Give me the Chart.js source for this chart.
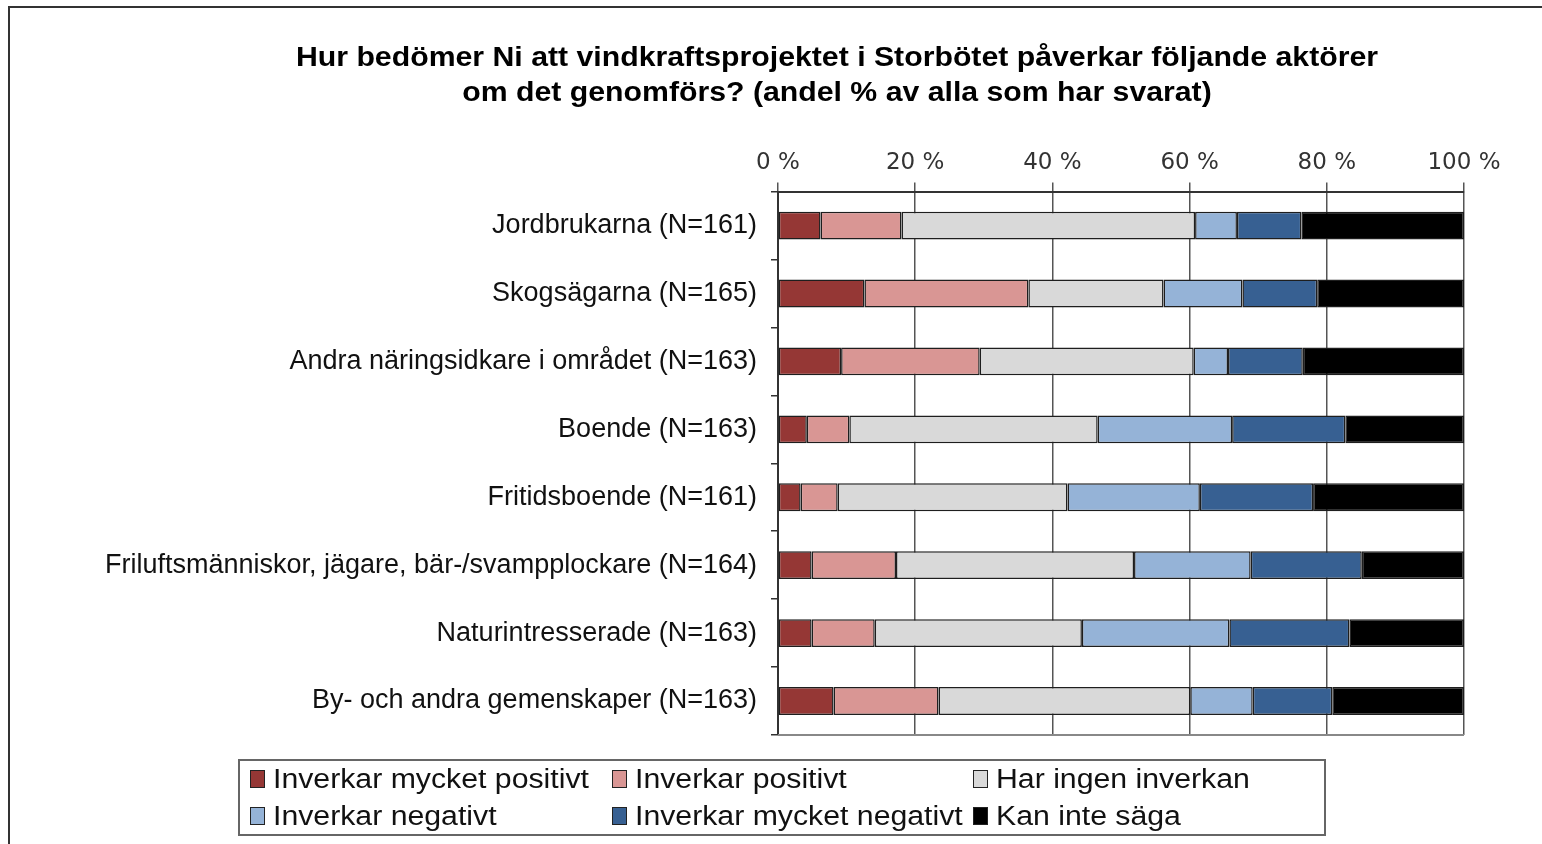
<!DOCTYPE html>
<html>
<head>
<meta charset="utf-8">
<script src="https://cdn.jsdelivr.net/npm/chart.js@4/dist/chart.umd.min.js"></script>
<style>
  html, body { margin: 0; padding: 0; background: #fff; overflow: hidden; }
  #wrap { position: relative; width: 1542px; height: 844px; }
  #frame { position: absolute; left: 8px; top: 6px; width: 1600px; height: 900px; border-left: 2px solid #333; border-top: 2px solid #333; }
  #chart { position: absolute; left: 0; top: 0; }
  #legend {
    position: absolute; left: 238px; top: 759px; width: 1088px; height: 77px;
    border: 2px solid #666; box-sizing: border-box;
    display: grid; grid-template-columns: 362px 361px 340px; grid-template-rows: 36px 38px;
    padding-left: 10px;
    font-family: "Liberation Sans", Arial, sans-serif; font-size: 27px; color: #111;
  }
  .item { display: flex; align-items: center; white-space: nowrap; }
  .sw { width: 13px; height: 16px; border: 1.5px solid #222; margin-right: 8px; flex: none; }
  .txt { display: inline-block; transform: scaleX(1.12); transform-origin: left center; }
</style>
</head>
<body>
<div id="wrap">
  <div id="frame"></div>
  <canvas id="chart" width="1542" height="844"></canvas>
  <div id="legend"></div>
</div>
<script>
// Kategorier och andelar (%)
const categories = [
    'Jordbrukarna (N=161)',
    'Skogsägarna (N=165)',
    'Andra näringsidkare i området (N=163)',
    'Boende (N=163)',
    'Fritidsboende (N=161)',
    'Friluftsmänniskor, jägare, bär-/svampplockare (N=164)',
    'Naturintresserade (N=163)',
    'By- och andra gemenskaper (N=163)'
];
const mycketPositivt = [6.2, 12.6, 9.2, 4.2, 3.3, 4.9, 4.9, 8.1];
const positivt       = [11.8, 23.9, 20.2, 6.2, 5.4, 12.3, 9.2, 15.3];
const ingenInverkan  = [42.8, 19.7, 31.2, 36.2, 33.5, 34.7, 30.2, 36.7];
const negativt       = [6.1, 11.5, 5.0, 19.6, 19.3, 17.0, 21.5, 9.1];
const mycketNegativt = [9.4, 10.9, 10.9, 16.5, 16.5, 16.2, 17.5, 11.6];
const kanInteSaga    = [23.7, 21.4, 23.5, 17.3, 22.0, 14.9, 16.7, 19.2];
const tickLabels = ['0 %', '20 %', '40 %', '60 %', '80 %', '100 %'];

const seriesNames = ['Inverkar mycket positivt', 'Inverkar positivt', 'Har ingen inverkan',
    'Inverkar negativt', 'Inverkar mycket negativt', 'Kan inte säga'];
const seriesData = [mycketPositivt, positivt, ingenInverkan, negativt, mycketNegativt, kanInteSaga];
const seriesColors = ['#953735', '#D99694', '#D9D9D9', '#95B3D7', '#376092', '#000000'];

const titleLines = ['Hur bedömer Ni att vindkraftsprojektet i Storbötet påverkar följande aktörer',
    'om det genomförs? (andel % av alla som har svarat)'];

// Rubrik (lite bredare typsnitt, som i originalet)
const titlePlugin = {
    id: 'titlePlugin',
    afterDraw(chart) {
        const { ctx } = chart;
        ctx.save();
        ctx.fillStyle = '#000';
        ctx.font = 'bold 27px "Liberation Sans", Arial, sans-serif';
        ctx.textAlign = 'center';
        ctx.textBaseline = 'middle';
        titleLines.forEach((t, i) => {
            ctx.save();
            ctx.translate(837, 59 + i * 35);
            ctx.scale(1.12, 1);
            ctx.fillText(t, 0, 0);
            ctx.restore();
        });
        ctx.restore();
    }
};

// Ram runt plotytan (nederkant)
const plotFrame = {
    id: 'plotFrame',
    afterDatasetsDraw(chart) {
        const { ctx, chartArea: a } = chart;
        ctx.save();
        ctx.strokeStyle = '#888';
        ctx.lineWidth = 2;
        ctx.beginPath();
        ctx.moveTo(a.left, a.bottom);
        ctx.lineTo(a.right, a.bottom);
        ctx.stroke();
        ctx.restore();
    }
};

const ctx = document.getElementById('chart').getContext('2d');
const chart = new Chart(ctx, {
    type: 'bar',
    data: {
        labels: categories,
        datasets: seriesData.map((d, i) => ({
            label: seriesNames[i],
            data: d,
            backgroundColor: seriesColors[i],
            borderColor: '#1e1e1e',
            borderWidth: 1.5,
            borderSkipped: false,
            barPercentage: 0.41,
            categoryPercentage: 1
        }))
    },
    options: {
        indexAxis: 'y',
        responsive: false,
        animation: false,
        layout: { padding: { left: 0, right: 78, top: 143, bottom: 109 } },
        plugins: {
            legend: { display: false },
            tooltip: { enabled: false },
            title: { display: false }
        },
        scales: {
            x: {
                position: 'top',
                stacked: true,
                min: 0,
                max: 100,
                ticks: {
                    stepSize: 20,
                    color: '#333',
                    padding: 6,
                    font: { family: '"DejaVu Sans", sans-serif', size: 23 },
                    callback: (v, i) => tickLabels[i]
                },
                grid: { color: '#555', lineWidth: 1.5, tickLength: 9 },
                border: { color: '#333', width: 2 }
            },
            y: {
                stacked: true,
                afterFit: s => { s.width = 778; },
                ticks: {
                    color: '#111',
                    padding: 14,
                    font: { family: '"Liberation Sans", Arial, sans-serif', size: 27 }
                },
                grid: { offset: true, drawOnChartArea: false, color: '#333', lineWidth: 1.5, tickLength: 7 },
                border: { color: '#333', width: 2 }
            }
        }
    },
    plugins: [plotFrame, titlePlugin]
});

// Teckenförklaring
const legend = document.getElementById('legend');
seriesNames.forEach((name, i) => {
    const el = document.createElement('div');
    el.className = 'item';
    el.innerHTML = '<span class="sw" style="background:' + seriesColors[i] + '"></span><span class="txt">' + name + '</span>';
    legend.appendChild(el);
});
</script>
</body>
</html>
